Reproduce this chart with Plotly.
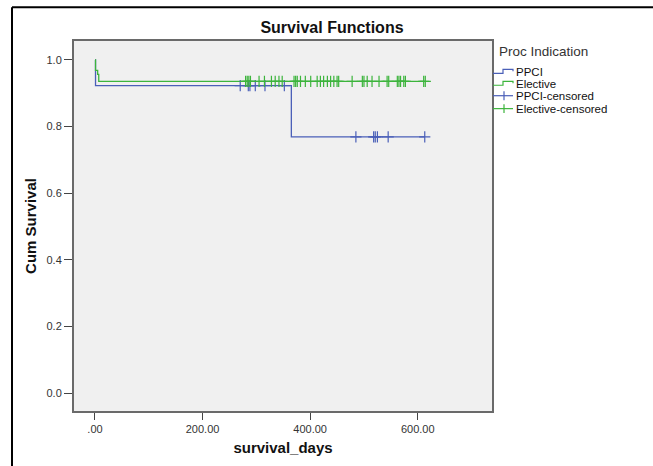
import plotly.graph_objects as go

# ---- data ----
ppci_times = [0, 1, 365, 613]
ppci_surv = [1.0, 0.923, 0.769, 0.769]
elective_times = [0, 1, 5, 7, 614]
elective_surv = [1.0, 0.969, 0.957, 0.936, 0.936]

ppci_censored_days = [270, 285, 288, 298, 316, 352, 485, 518, 521, 525, 545, 613]
ppci_censored_surv = [0.923] * 6 + [0.769] * 6
elective_censored_days = [280, 283, 286, 289, 305, 315, 328, 335, 342, 348, 370, 373, 376,
                          382, 391, 401, 413, 419, 425, 432, 438, 444, 450, 453, 478, 497,
                          500, 506, 515, 528, 543, 546, 562, 565, 568, 574, 577, 611, 614]
elective_censored_surv = [0.936] * len(elective_censored_days)

x_ticks = [0, 200, 400, 600]
x_tick_labels = [".00", "200.00", "400.00", "600.00"]
y_ticks = [0.0, 0.2, 0.4, 0.6, 0.8, 1.0]
y_tick_labels = ["0.0", "0.2", "0.4", "0.6", "0.8", "1.0"]

legend_title = "Proc Indication"
legend_names = ["PPCI", "Elective", "PPCI-censored", "Elective-censored"]

BLUE = "#4a5fb8"
GREEN = "#3cb43c"
FONT = "Arial, Liberation Sans, sans-serif"

fig = go.Figure()
fig.add_trace(go.Scatter(x=ppci_times, y=ppci_surv, mode="lines", line_shape="hv",
                         line=dict(color=BLUE, width=1.3), name=legend_names[0]))
fig.add_trace(go.Scatter(x=elective_times, y=elective_surv, mode="lines", line_shape="hv",
                         line=dict(color=GREEN, width=1.3), name=legend_names[1]))
fig.add_trace(go.Scatter(x=ppci_censored_days, y=ppci_censored_surv, mode="markers",
                         marker=dict(symbol="cross-thin", size=8, line=dict(color=BLUE, width=1.2)),
                         name=legend_names[2]))
fig.add_trace(go.Scatter(x=elective_censored_days, y=elective_censored_surv, mode="markers",
                         marker=dict(symbol="cross-thin", size=8, line=dict(color=GREEN, width=1.2)),
                         name=legend_names[3]))

L, R, T, B = 74, 161, 41, 53
W, H = 653, 466
pw = W - L - R
ph = H - T - B


def px_x(px):
    return (px - L) / pw


def px_y(py):
    return (H - B - py) / ph


shapes = [
    dict(type="line", xref="paper", yref="paper", x0=px_x(12), x1=px_x(660),
         y0=px_y(7), y1=px_y(7), line=dict(color="black", width=2)),
    dict(type="line", xref="paper", yref="paper", x0=px_x(12), x1=px_x(12),
         y0=px_y(7), y1=px_y(470), line=dict(color="black", width=2)),
]
annotations = [
    dict(text=legend_title, xref="paper", yref="paper", x=px_x(497), y=px_y(52),
         xanchor="left", yanchor="middle", showarrow=False,
         font=dict(size=13.5, color="#333")),
]

# manual legend (reference spacing is tighter than plotly's native legend)
colors = [BLUE, GREEN, BLUE, GREEN]
row_y = [72, 84, 96, 109]
for i, (name, col, yy) in enumerate(zip(legend_names, colors, row_y)):
    if i < 2:
        path = "M {} {} L {} {} L {} {} L {} {} L {} {}".format(
            px_x(493), px_y(yy + 1.5), px_x(503), px_y(yy + 1.5), px_x(503), px_y(yy - 2.5),
            px_x(513), px_y(yy - 2.5), px_x(513), px_y(yy - 0.5))
        shapes.append(dict(type="path", xref="paper", yref="paper", path=path,
                           line=dict(color=col, width=1.2)))
    else:
        shapes.append(dict(type="line", xref="paper", yref="paper", x0=px_x(493), x1=px_x(513),
                           y0=px_y(yy), y1=px_y(yy), line=dict(color=col, width=1.2)))
        shapes.append(dict(type="line", xref="paper", yref="paper", x0=px_x(504), x1=px_x(504),
                           y0=px_y(yy - 4.5), y1=px_y(yy + 4.5), line=dict(color=col, width=1.2)))
    annotations.append(dict(text=name, xref="paper", yref="paper", x=px_x(514), y=px_y(yy),
                            xanchor="left", yanchor="middle", showarrow=False,
                            font=dict(size=11.5, color="#111")))

fig.update_layout(
    width=W, height=H,
    margin=dict(l=L, r=R, t=T, b=B),
    paper_bgcolor="white",
    plot_bgcolor="#f0f0f0",
    showlegend=False,
    font=dict(family=FONT, size=10, color="#222"),
    title=dict(text="<b>Survival Functions</b>", x=332 / W, xanchor="center",
               y=1 - 27 / H, yanchor="middle", font=dict(size=16, color="#111")),
    xaxis=dict(range=[-39, 738], tickvals=x_ticks, ticktext=x_tick_labels,
               showgrid=False, zeroline=False, showline=True, mirror=True,
               linecolor="#6a6a6a", linewidth=2, ticks="outside", ticklen=7,
               tickcolor="#444", tickfont=dict(size=11, color="#333"),
               title=dict(text="<b>survival_days</b>", font=dict(size=15, color="#111"), standoff=8)),
    yaxis=dict(range=[-0.054, 1.057], tickvals=y_ticks, ticktext=y_tick_labels,
               showgrid=False, zeroline=False, showline=True, mirror=True,
               linecolor="#6a6a6a", linewidth=2, ticks="outside", ticklen=8,
               tickcolor="#444", tickfont=dict(size=11, color="#333"),
               title=dict(text="<b>Cum Survival</b>", font=dict(size=15, color="#111"), standoff=6)),
    shapes=shapes,
    annotations=annotations,
)

fig.write_html("out.html", config={"displayModeBar": False},
               post_script="document.body.style.margin='0';")
